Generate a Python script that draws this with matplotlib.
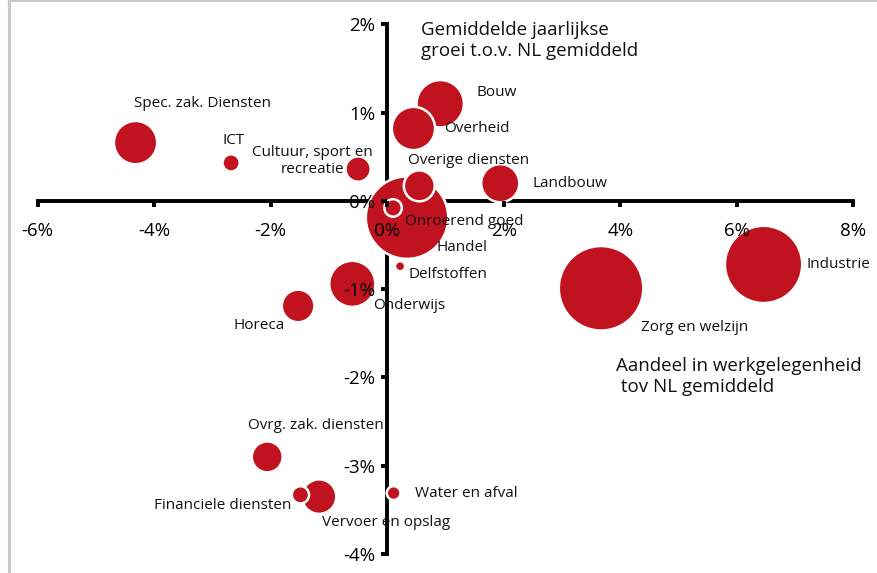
import numpy as np
import matplotlib.pyplot as plt
from matplotlib.lines import Line2D

plt.rcParams['font.family'] = ['Open Sans', 'DejaVu Sans']

# sectoren, aandeel in werkgelegenheid (x), groei (y), omvang (bubbel)
sectoren = ["Spec. zak. Diensten", "ICT", "Cultuur, sport en\nrecreatie", "Bouw",
            "Overheid", "Handel", "Onroerend goed", "Overige diensten", "Landbouw",
            "Delfstoffen", "Onderwijs", "Horeca", "Zorg en welzijn", "Industrie",
            "Ovrg. zak. diensten", "Vervoer en opslag", "Financiele diensten",
            "Water en afval"]
aandeel = [-4.32, -2.68, -0.50, 0.91, 0.45, 0.34, 0.10, 0.55, 1.94,
           0.22, -0.60, -1.53, 3.67, 6.46, -2.06, -1.17, -1.49, 0.11]
groei = [0.66, 0.43, 0.36, 1.10, 0.82, -0.19, -0.08, 0.17, 0.20,
         -0.74, -0.94, -1.19, -0.99, -0.72, -2.90, -3.35, -3.33, -3.31]
omvang = [441, 70, 150, 529, 441, 1600, 72, 225, 342,
          24, 500, 250, 1681, 1406, 225, 280, 70, 45]

# label offsets in pixels (dx, dy)
offsets = [(67, 39), (2, 22), (-46, 8), (56, 11), (63, 0), (55, -30), (71, -14),
           (49, 25), (70, 0), (48, -8), (57, -22), (-39, -20), (94, -39), (75, 0),
           (49, 31), (67, -26), (-78, -11), (73, 0)]

rood = '#c1121f'

fig = plt.figure(figsize=(8.77, 5.73), dpi=100)
ax = fig.add_axes([37.7/877, 1-554/573, (853.3-37.7)/877, (554-24.3)/573])

s = np.array(omvang) * 2.2
ax.scatter(aandeel, groei, s=s, color=rood, edgecolor='white', linewidth=1.8,
           zorder=3, clip_on=False)

for naam, x, y, off in zip(sectoren, aandeel, groei, offsets):
    ax.annotate(naam, (x, y), xytext=off, textcoords='offset pixels',
                ha='center', va='center', fontsize=11, color='#111111',
                zorder=6, multialignment='center')

ax.set_xlim(-6, 8)
ax.set_ylim(-4, 2)
ax.spines['left'].set_position(('data', 0))
ax.spines['bottom'].set_position(('data', 0))
ax.spines['right'].set_visible(False)
ax.spines['top'].set_visible(False)
for sp in ['left', 'bottom']:
    ax.spines[sp].set_linewidth(2.8)
    ax.spines[sp].set_zorder(2)

ax.set_xticks(np.arange(-6, 9, 2))
ax.set_yticks(np.arange(-4, 3, 1))
ax.set_xticklabels([f"{v}%" for v in range(-6, 9, 2)])
ax.set_yticklabels([f"{v}%" for v in range(-4, 3, 1)])
ax.tick_params(axis='x', direction='out', length=4.5, width=2.8, pad=11, labelsize=13.5)
ax.tick_params(axis='y', direction='out', length=4.5, width=2.8, pad=4, labelsize=13.5)
ax.xaxis.set_zorder(5)
ax.yaxis.set_zorder(5)
ax.patch.set_visible(False)

fig.text(421/877, 1-21/573, "Gemiddelde jaarlijkse\ngroei t.o.v. NL gemiddeld",
         ha='left', va='top', fontsize=13.5, color='#111111', linespacing=1.2)
fig.text(616/877, 1-357/573, "Aandeel in werkgelegenheid\n tov NL gemiddeld",
         ha='left', va='top', fontsize=13.5, color='#111111', linespacing=1.2)

# kader
fig.add_artist(Line2D([8.5/877, 8.5/877], [0, 1], color='#c8c8c8', linewidth=2.2))
fig.add_artist(Line2D([8.5/877, 1], [1-0.8/573, 1-0.8/573], color='#c8c8c8', linewidth=1.5))

fig.savefig('out.png', dpi=100)
